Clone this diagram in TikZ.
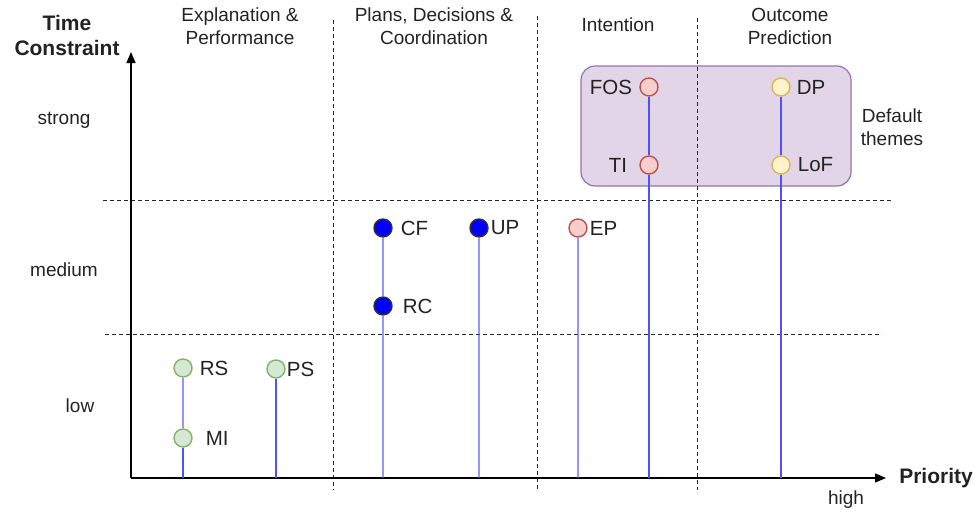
\documentclass[tikz,border=0pt]{standalone}
\usepackage{fontspec}
\setmainfont{Liberation Sans}
\usepackage{tikz}
\usetikzlibrary{positioning,arrows.meta}

\definecolor{redfill}{HTML}{F8CECC}
\definecolor{redline}{HTML}{B85450}
\definecolor{yelfill}{HTML}{FFF2CC}
\definecolor{yelline}{HTML}{D6B656}
\definecolor{grnfill}{HTML}{D5E8D4}
\definecolor{grnline}{HTML}{82B366}
\definecolor{purfill}{HTML}{E1D5E7}
\definecolor{purline}{HTML}{9673A6}
\definecolor{txt}{HTML}{222222}

\tikzset{
  dot/.style={circle, draw, line width=1.4pt, minimum size=18pt, inner sep=0pt},
  reddot/.style={dot, fill=redfill, draw=redline},
  yeldot/.style={dot, fill=yelfill, draw=yelline},
  grndot/.style={dot, fill=grnfill, draw=grnline},
  bludot/.style={dot, fill=blue, draw=black!80},
  lbl/.style={text=txt, font=\fontsize{20.5}{22}\selectfont, inner sep=0pt},
  axtxt/.style={text=txt, font=\fontsize{19}{23}\selectfont, align=center},
  bold/.style={axtxt, font=\bfseries\fontsize{21}{25}\selectfont},
  stem/.style={draw={rgb,255:red,80;green,80;blue,255}, line width=1.3pt},
  grid/.style={dashed, dash pattern=on 4pt off 3pt, line width=1pt, black!85},
}

\begin{document}
\begin{tikzpicture}[x=1pt, y=-1pt]
\useasboundingbox (0,0) rectangle (979,517);

% default theme box
\node[draw=purline, fill=purfill, line width=1.2pt, rounded corners=14pt,
  minimum width=270pt, minimum height=120pt] (box) at (716,126) {};

% level and category separators
\draw[grid] (103,200) -- (891,200);
\draw[grid] (105,334) -- (882,334);
\draw[grid] (333,20) -- (333,490);
\draw[grid] (537,16) -- (537,490);
\draw[grid] (697,18) -- (697,490);

% axes
\coordinate (o) at (131,478);
\coordinate (ytip) at (131,52);
\coordinate (xtip) at (886,478);
\draw[line width=1.3pt, -{Triangle[length=11pt,width=9pt]}] (o) -- (ytip);
\draw[line width=1.3pt, -{Triangle[length=11pt,width=9pt]}] (o) -- (xtip);

\node[bold] (tc) at (67,35) {Time\\Constraint};
\node[bold] (prio) at (936,478) {Priority};
\node[axtxt] (high) at (846,500) {high};
\node[axtxt] (strong) at (64,120) {strong};
\node[axtxt] (medium) at (64,270) {medium};
\node[axtxt] (low) at (80,406) {low};

\node[axtxt] (c1) at (240,26) {Explanation \&\\Performance};
\node[axtxt] (c2) at (434,26) {Plans, Decisions \&\\Coordination};
\node[axtxt] (c3) at (618,25) {Intention};
\node[axtxt] (c4) at (790,26) {Outcome\\Prediction};
\node[axtxt] (dt) at (892,127) {Default\\themes};

% themes
\node[reddot] (fos) at (649,87) {};
\node[reddot] (ti) at (649,165) {};
\node[yeldot] (dp) at (781,87) {};
\node[yeldot] (lof) at (781,165) {};
\node[bludot] (cf) at (383,228) {};
\node[bludot] (rc) at (383,306) {};
\node[bludot] (up) at (479,228) {};
\node[reddot] (ep) at (578,228) {};
\node[grndot] (rs) at (183,368) {};
\node[grndot] (mi) at (183,438) {};
\node[grndot] (ps) at (276,369) {};

% stems down to the priority axis
\draw[stem] (fos) -- (ti);
\draw[stem] (ti.south) -- (ti.south |- o);
\draw[stem] (dp) -- (lof);
\draw[stem] (lof.south) -- (lof.south |- o);
\draw[stem, opacity=.6] (cf) -- (rc);
\draw[stem, opacity=.6] (rc.south) -- (rc.south |- o);
\draw[stem, opacity=.6] (up.south) -- (up.south |- o);
\draw[stem, opacity=.6] (ep.south) -- (ep.south |- o);
\draw[stem, opacity=.6] (rs) -- (mi);
\draw[stem] (mi.south) -- (mi.south |- o);
\draw[stem] (ps.south) -- (ps.south |- o);

% labels
\node[lbl, left=7pt of fos] (fosl) {FOS};
\node[lbl, left=12pt of ti] (til) {TI};
\node[lbl, right=6pt of dp] (dpl) {DP};
\node[lbl, right=7pt of lof] (lofl) {LoF};
\node[lbl, right=8pt of cf] (cfl) {CF};
\node[lbl, right=10pt of rc] (rcl) {RC};
\node[lbl, right=2pt of up] (upl) {UP};
\node[lbl, right=2pt of ep] (epl) {EP};
\node[lbl, right=7pt of rs] (rsl) {RS};
\node[lbl, right=13pt of mi] (mil) {MI};
\node[lbl, right=1pt of ps] (psl) {PS};
\end{tikzpicture}
\end{document}
